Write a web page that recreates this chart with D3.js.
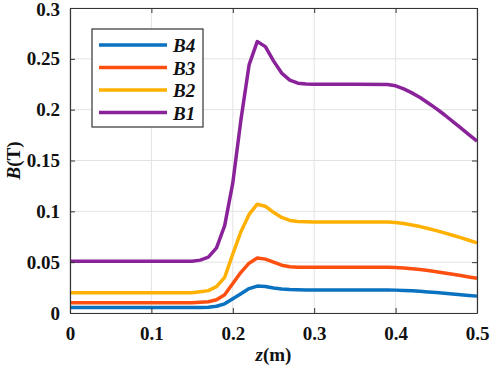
<!DOCTYPE html>
<html>
<head>
<meta charset="utf-8">
<script src="https://cdn.jsdelivr.net/npm/d3@7"></script>
<style>
  body { margin: 0; background: #fff; }
  svg text { font-family: "Times New Roman", Times, "Liberation Serif", "Noto Serif", "DejaVu Serif", serif; font-weight: bold; }
</style>
</head>
<body>
<div id="chart"></div>
<script>
// z positions (m)
const zValues = [0, 0.05, 0.1, 0.15, 0.16, 0.17, 0.18, 0.19, 0.2, 0.21, 0.22, 0.23, 0.24, 0.25, 0.26, 0.27, 0.28, 0.29, 0.3, 0.35, 0.39, 0.4, 0.41, 0.42, 0.43, 0.44, 0.45, 0.46, 0.47, 0.48, 0.49, 0.5];

const b1 = [0.051, 0.051, 0.051, 0.051, 0.052, 0.055, 0.064, 0.086, 0.128, 0.19, 0.244, 0.267, 0.262, 0.248, 0.236, 0.229, 0.226, 0.2252, 0.225, 0.225, 0.2248, 0.2235, 0.2205, 0.2165, 0.212, 0.2065, 0.201, 0.195, 0.1885, 0.182, 0.1755, 0.169];
const b2 = [0.020, 0.020, 0.020, 0.020, 0.021, 0.022, 0.026, 0.035, 0.058, 0.08, 0.097, 0.107, 0.105, 0.099, 0.094, 0.091, 0.090, 0.0897, 0.0895, 0.0895, 0.0895, 0.0891, 0.088, 0.0866, 0.085, 0.0831, 0.081, 0.0788, 0.0765, 0.0741, 0.0716, 0.069];
const b3 = [0.010, 0.010, 0.010, 0.010, 0.0105, 0.011, 0.013, 0.018, 0.029, 0.040, 0.049, 0.054, 0.053, 0.050, 0.047, 0.0455, 0.045, 0.045, 0.045, 0.045, 0.045, 0.0447, 0.0442, 0.0435, 0.0427, 0.0417, 0.0406, 0.0394, 0.0381, 0.0368, 0.0355, 0.0341];
const b4 = [0.0053, 0.0053, 0.0053, 0.0053, 0.0054, 0.0057, 0.0066, 0.009, 0.014, 0.019, 0.024, 0.0265, 0.026, 0.0245, 0.0235, 0.023, 0.0228, 0.0227, 0.0227, 0.0227, 0.0226, 0.0225, 0.0222, 0.0218, 0.0213, 0.0207, 0.0201, 0.0194, 0.0187, 0.018, 0.0173, 0.0166];

const seriesNames = ["B4", "B3", "B2", "B1"];
const seriesColors = ["#0a72c0", "#fc4f10", "#ffb000", "#8a239a"];
const seriesValues = [b4, b3, b2, b1];

const xTicks = [0, 0.1, 0.2, 0.3, 0.4, 0.5];
const yTicks = [0, 0.05, 0.1, 0.15, 0.2, 0.25, 0.3];

const svgWidth = 491;
const svgHeight = 372;
const margin = { top: 8, right: 14, bottom: 59, left: 70 };
const width = svgWidth - margin.left - margin.right;
const height = svgHeight - margin.top - margin.bottom;

const svg = d3.select("#chart")
  .append("svg")
  .attr("width", svgWidth)
  .attr("height", svgHeight);

const g = svg.append("g")
  .attr("transform", `translate(${margin.left},${margin.top})`);

const x = d3.scaleLinear().domain([0, 0.5]).range([0, width]);
const y = d3.scaleLinear().domain([0, 0.3]).range([height, 0]);

// grid
g.selectAll(".gx")
  .data(xTicks)
  .join("line")
  .attr("x1", d => x(d)).attr("x2", d => x(d))
  .attr("y1", 0).attr("y2", height)
  .attr("stroke", "#e3e3e3").attr("stroke-width", 1);

g.selectAll(".gy")
  .data(yTicks)
  .join("line")
  .attr("x1", 0).attr("x2", width)
  .attr("y1", d => y(d)).attr("y2", d => y(d))
  .attr("stroke", "#e3e3e3").attr("stroke-width", 1);

// lines
const line = d3.line()
  .x((d, i) => x(zValues[i]))
  .y(d => y(d));

g.selectAll(".series")
  .data(seriesValues)
  .join("path")
  .attr("d", line)
  .attr("fill", "none")
  .attr("stroke", (d, i) => seriesColors[i])
  .attr("stroke-width", 3.5)
  .attr("stroke-linejoin", "round");

// axes (box with inward ticks)
const fmt = d => d === 0 ? "0" : String(d);
const axisColor = "#333";

const axBottom = g.append("g")
  .attr("transform", `translate(0,${height})`)
  .call(d3.axisBottom(x).tickValues(xTicks).tickFormat(fmt).tickSizeInner(-5).tickSizeOuter(0).tickPadding(14));
const axLeft = g.append("g")
  .call(d3.axisLeft(y).tickValues(yTicks).tickFormat(fmt).tickSizeInner(-5).tickSizeOuter(0).tickPadding(10));
const axTop = g.append("g")
  .call(d3.axisTop(x).tickValues(xTicks).tickFormat("").tickSizeInner(-5).tickSizeOuter(0));
const axRight = g.append("g")
  .attr("transform", `translate(${width},0)`)
  .call(d3.axisRight(y).tickValues(yTicks).tickFormat("").tickSizeInner(-5).tickSizeOuter(0));

[axBottom, axLeft, axTop, axRight].forEach(a => {
  a.attr("font-family", null).attr("font-size", null);
  a.select(".domain").attr("stroke", axisColor).attr("stroke-width", 1.2);
  a.selectAll(".tick line").attr("stroke", axisColor);
  a.selectAll(".tick text")
    .attr("fill", "#111")
    .style("font-size", "19px");
});
axLeft.select(".tick:last-of-type text").attr("dy", "0.4em");

// axis labels
const xl = svg.append("text")
  .attr("x", margin.left + width / 2)
  .attr("y", 361)
  .attr("text-anchor", "middle")
  .style("font-size", "19px")
  .attr("fill", "#111");
xl.append("tspan").style("font-style", "italic").text("z");
xl.append("tspan").text("(m)");

const yl = svg.append("text")
  .attr("transform", `translate(20,${margin.top + height / 2}) rotate(-90)`)
  .attr("text-anchor", "middle")
  .style("font-size", "19px")
  .attr("fill", "#111");
yl.append("tspan").style("font-style", "italic").text("B");
yl.append("tspan").text("(T)");

// legend
const legend = svg.append("g").attr("transform", "translate(92,29)");
legend.append("rect")
  .attr("width", 111).attr("height", 98)
  .attr("fill", "#fff").attr("stroke", axisColor).attr("stroke-width", 1.2);

const rows = legend.selectAll(".row")
  .data(seriesNames)
  .join("g")
  .attr("transform", (d, i) => `translate(0,${16 + i * 22.5})`);

rows.append("line")
  .attr("x1", 7).attr("x2", 75)
  .attr("stroke", (d, i) => seriesColors[i])
  .attr("stroke-width", 3.5);

rows.append("text")
  .attr("x", 81).attr("y", 7)
  .style("font-size", "19px")
  .style("font-style", "italic")
  .attr("fill", "#111")
  .text(d => d);
</script>
</body>
</html>
